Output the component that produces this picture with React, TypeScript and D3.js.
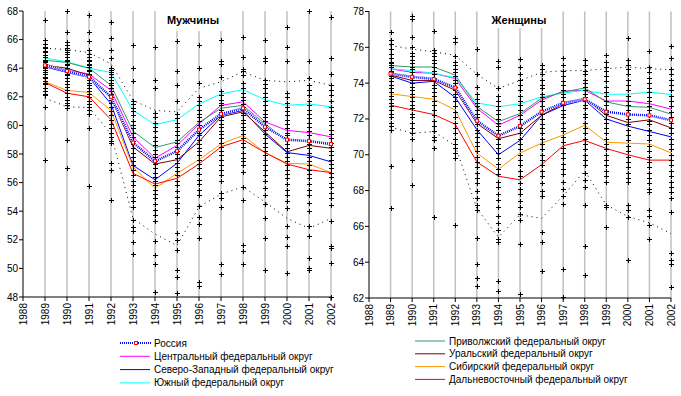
import React from 'react';
import * as d3 from 'd3';

// years on the x axis
const years = [1989, 1990, 1991, 1992, 1993, 1994, 1995, 1996, 1997, 1998, 1999, 2000, 2001, 2002];
const tickYears = [1988, 1989, 1990, 1991, 1992, 1993, 1994, 1995, 1996, 1997, 1998, 1999, 2000, 2001, 2002];

const seriesNames = [
  'Россия',
  'Центральный федеральный округ',
  'Северо-Западный федеральный округ',
  'Южный федеральный округ',
  'Приволжский федеральный округ',
  'Уральский федеральный округ',
  'Сибирский федеральный округ',
  'Дальневосточный федеральный округ',
];
const seriesColors = ['#0000ff', '#ff00ff', '#0000ff', '#00ffff', '#339966', '#800000', '#ff9900', '#ff0000'];

// ---- men
const menRussia = [64.2, 63.8, 63.4, 62.0, 58.8, 57.5, 58.2, 59.7, 60.8, 61.2, 59.9, 59.0, 58.9, 58.7];
const menCentral = [64.3, 63.85, 63.6, 62.45, 59.2, 57.7, 58.6, 60.1, 61.4, 61.65, 60.25, 59.65, 59.5, 59.2];
const menNorthWest = [64.1, 63.7, 63.35, 61.5, 57.2, 56.2, 57.35, 59.3, 60.7, 61.05, 59.4, 58.1, 57.9, 57.45];
const menSouth = [64.7, 64.45, 64.0, 63.7, 61.05, 60.05, 60.4, 61.5, 62.2, 62.5, 61.8, 61.4, 61.5, 61.3];
const menVolga = [64.55, 64.4, 64.0, 62.8, 59.6, 58.45, 58.85, 60.2, 61.2, 61.4, 60.1, 58.95, 58.95, 58.6];
const menUral = [64.2, 64.0, 63.5, 61.9, 58.5, 57.3, 57.6, 58.85, 60.6, 60.95, 59.55, 58.15, 58.6, 58.4];
const menSiberia = [63.05, 62.45, 62.3, 61.05, 57.1, 55.6, 56.65, 57.6, 58.7, 59.3, 58.1, 57.35, 57.3, 56.7];
const menFarEast = [63.0, 62.25, 62.0, 60.4, 56.65, 55.9, 56.3, 57.3, 58.5, 59.0, 58.1, 57.3, 56.9, 56.7];
const menUpper = [65.4, 65.3, 65.1, 64.3, 61.75, 61.05, 60.95, 62.6, 63.05, 63.75, 63.15, 63.05, 63.15, 62.8];
const menLower = [61.9, 61.3, 61.25, 59.4, 53.5, 52.4, 51.6, 54.3, 55.2, 55.7, 54.65, 53.5, 52.8, 53.5];

// regional values (crosses), one list per year
const menRegions = [
  [67.4, 66.0, 65.7, 65.5, 65.4, 65.2, 65.1, 64.9, 64.8, 64.8, 64.6, 64.5, 64.4, 64.3, 64.1, 64.0, 63.9, 63.7, 63.6, 63.4, 63.3, 63.1, 63.0, 62.9, 62.6, 62.4, 62.2, 62.1, 61.3, 59.8, 57.6],
  [68.0, 66.55, 65.8, 65.6, 65.4, 65.3, 65.1, 65.0, 64.8, 64.6, 64.5, 64.3, 64.2, 64.0, 63.9, 63.8, 63.6, 63.5, 63.3, 63.1, 62.9, 62.7, 62.5, 62.3, 62.0, 61.8, 61.6, 61.4, 61.2, 59.0, 57.05],
  [67.7, 66.55, 65.9, 65.3, 65.0, 64.8, 64.6, 64.5, 64.3, 64.2, 64.1, 63.9, 63.8, 63.6, 63.5, 63.4, 63.2, 63.0, 62.8, 62.6, 62.4, 62.2, 62.0, 61.7, 61.5, 61.3, 61.1, 60.8, 59.8, 55.75],
  [67.25, 66.1, 65.3, 64.7, 64.0, 63.9, 63.7, 63.6, 63.4, 63.2, 63.0, 62.8, 62.6, 62.4, 62.2, 62.0, 61.8, 61.6, 61.3, 61.0, 60.7, 60.4, 60.1, 59.8, 59.5, 59.2, 58.9, 58.8, 57.35, 56.9, 54.8],
  [65.6, 64.0, 63.1, 61.7, 61.5, 61.2, 61.0, 60.7, 60.3, 60.0, 59.8, 59.5, 59.2, 58.9, 58.7, 58.4, 58.1, 57.8, 57.5, 57.2, 56.9, 56.5, 56.1, 55.8, 55.4, 55.0, 54.7, 54.3, 53.4, 52.9, 52.6, 51.85, 51.0],
  [65.5, 63.2, 62.6, 60.9, 60.6, 60.2, 59.9, 59.6, 59.2, 58.9, 58.6, 58.3, 58.0, 57.8, 57.5, 57.3, 57.0, 56.7, 56.4, 56.1, 55.8, 55.5, 55.2, 54.9, 54.5, 54.1, 53.7, 53.3, 51.9, 50.95, 50.3, 48.35],
  [65.9, 63.8, 62.8, 61.7, 60.8, 60.5, 60.2, 59.9, 59.6, 59.3, 59.0, 58.8, 58.5, 58.2, 58.0, 57.7, 57.4, 57.1, 56.8, 56.5, 56.1, 55.8, 55.4, 55.0, 54.6, 54.2, 53.9, 52.5, 52.0, 51.3, 49.9, 49.4, 48.25],
  [65.6, 64.0, 63.0, 62.0, 61.7, 61.4, 61.1, 60.8, 60.6, 60.3, 60.0, 59.8, 59.5, 59.3, 59.0, 58.7, 58.4, 58.2, 57.9, 57.6, 57.3, 57.0, 56.6, 56.2, 55.9, 55.5, 55.1, 54.35, 53.6, 53.1, 52.1, 49.05, 48.8],
  [66.0, 64.5, 64.3, 63.4, 62.4, 62.1, 61.8, 61.6, 61.4, 61.1, 60.9, 60.6, 60.4, 60.1, 59.9, 59.6, 59.4, 59.1, 58.8, 58.5, 58.2, 57.9, 57.6, 57.2, 56.9, 56.5, 56.1, 55.3, 54.9, 54.3, 50.3, 49.6],
  [66.15, 64.8, 63.95, 63.8, 63.5, 63.0, 62.6, 62.3, 62.0, 61.8, 61.5, 61.3, 61.1, 60.9, 60.7, 60.4, 60.2, 59.9, 59.7, 59.4, 59.1, 58.8, 58.5, 58.1, 57.7, 57.5, 57.2, 56.75, 55.7, 54.8, 51.65, 51.2, 50.3],
  [66.0, 64.7, 64.5, 63.2, 62.9, 62.6, 62.3, 62.0, 61.7, 61.4, 61.1, 60.8, 60.6, 60.3, 60.0, 59.7, 59.4, 59.1, 58.8, 58.5, 58.2, 57.9, 57.6, 57.2, 56.9, 56.5, 56.1, 55.6, 55.1, 54.5, 53.5, 52.1, 49.9],
  [66.85, 65.5, 64.5, 62.3, 62.0, 61.6, 61.3, 61.0, 60.7, 60.4, 60.1, 59.8, 59.5, 59.3, 59.0, 58.7, 58.4, 58.1, 57.8, 57.5, 57.2, 56.9, 56.6, 56.3, 55.9, 55.5, 55.1, 54.7, 54.2, 53.0, 52.2, 51.6, 49.7],
  [68.0, 64.5, 63.3, 62.8, 62.5, 62.1, 61.7, 61.4, 61.1, 60.8, 60.5, 60.2, 59.9, 59.6, 59.3, 59.0, 58.7, 58.4, 58.1, 57.8, 57.5, 57.2, 56.9, 56.6, 56.3, 55.9, 55.5, 55.1, 54.6, 54.0, 53.0, 52.3, 50.7, 50.0, 49.9],
  [67.6, 64.7, 63.6, 62.8, 62.5, 62.1, 61.7, 61.3, 61.0, 60.6, 60.3, 60.0, 59.7, 59.4, 59.1, 58.8, 58.5, 58.2, 57.9, 57.6, 57.3, 57.0, 56.7, 56.4, 56.0, 55.7, 55.3, 54.9, 54.4, 53.3, 51.6, 51.4, 50.4, 48.0],
];

// ---- women
const womenRussia = [74.53, 74.35, 74.23, 73.75, 71.9, 71.06, 71.6, 72.4, 72.9, 73.1, 72.4, 72.25, 72.2, 71.93];
const womenCentral = [74.8, 74.6, 74.55, 74.25, 72.6, 71.65, 72.2, 73.05, 73.55, 73.6, 73.0, 73.0, 72.85, 72.55];
const womenNorthWest = [74.4, 74.0, 74.1, 73.2, 71.4, 70.0, 70.8, 72.2, 72.75, 73.05, 72.0, 71.6, 71.3, 71.0];
const womenSouth = [74.8, 74.7, 74.55, 74.3, 72.9, 72.68, 72.85, 73.23, 73.45, 73.6, 73.38, 73.38, 73.5, 73.36];
const womenVolga = [74.98, 74.9, 74.9, 74.45, 72.7, 71.85, 72.3, 73.15, 73.5, 73.73, 72.95, 72.7, 72.65, 72.27];
const womenUral = [74.45, 74.15, 74.15, 73.6, 71.75, 70.9, 71.2, 72.2, 72.85, 73.15, 72.2, 71.8, 71.95, 71.5];
const womenSiberia = [73.4, 73.25, 73.1, 72.5, 70.1, 69.2, 70.1, 70.65, 71.1, 71.65, 70.7, 70.65, 70.6, 70.1];
const womenFarEast = [72.77, 72.5, 72.25, 71.7, 69.6, 68.8, 68.6, 69.45, 70.5, 70.8, 70.35, 70.0, 69.7, 69.7];
const womenUpper = [76.1, 75.9, 75.75, 75.55, 74.5, 73.7, 74.15, 74.6, 74.7, 74.7, 74.8, 74.9, 74.8, 74.75];
const womenLower = [71.55, 71.2, 71.3, 70.5, 67.0, 65.4, 66.65, 66.45, 67.7, 69.1, 67.2, 66.55, 66.2, 65.6];

const womenRegions = [
  [76.85, 76.4, 76.2, 75.9, 75.6, 75.4, 75.2, 75.1, 75.0, 74.9, 74.7, 74.6, 74.4, 74.3, 74.1, 73.9, 73.7, 73.5, 73.3, 73.1, 72.9, 72.7, 72.5, 72.3, 72.1, 71.8, 71.6, 71.4, 69.35, 67.0],
  [77.75, 77.6, 76.55, 76.0, 75.7, 75.5, 75.3, 75.1, 74.9, 74.8, 74.6, 74.4, 74.2, 74.0, 73.8, 73.6, 73.4, 73.2, 73.0, 72.8, 72.6, 72.3, 72.1, 71.8, 71.5, 71.2, 70.9, 69.7, 68.3],
  [76.9, 75.85, 75.7, 75.5, 75.3, 75.1, 74.9, 74.7, 74.5, 74.3, 74.1, 73.9, 73.7, 73.5, 73.3, 73.0, 72.8, 72.5, 72.2, 71.9, 71.6, 71.3, 71.0, 70.8, 70.4, 66.5],
  [76.5, 76.3, 75.5, 75.2, 75.0, 74.8, 74.6, 74.4, 74.2, 74.0, 73.8, 73.6, 73.4, 73.2, 73.0, 72.7, 72.4, 72.1, 71.8, 71.5, 71.2, 70.9, 70.6, 70.4, 70.1, 69.8, 66.1],
  [75.9, 74.5, 73.8, 73.4, 73.1, 72.9, 72.7, 72.5, 72.3, 72.1, 71.9, 71.7, 71.4, 71.2, 71.0, 70.7, 70.5, 70.2, 69.9, 69.6, 69.3, 69.0, 68.7, 68.4, 68.0, 67.6, 67.2, 66.9, 65.35, 63.9, 63.1, 62.65],
  [75.25, 74.9, 73.7, 73.3, 73.0, 72.7, 72.5, 72.3, 72.0, 71.8, 71.6, 71.4, 71.1, 70.9, 70.6, 70.4, 70.1, 69.8, 69.5, 69.2, 68.9, 68.5, 68.2, 67.8, 67.5, 67.1, 66.6, 66.2, 65.8, 65.3, 65.1, 62.95, 62.4],
  [75.35, 74.9, 74.5, 74.2, 73.9, 73.6, 73.3, 73.0, 72.8, 72.5, 72.2, 72.0, 71.7, 71.5, 71.2, 70.9, 70.6, 70.3, 70.0, 69.7, 69.4, 69.1, 68.8, 68.4, 68.1, 67.8, 67.4, 67.1, 66.7, 66.35, 65.0, 62.25],
  [75.0, 74.8, 74.5, 74.2, 73.9, 73.7, 73.4, 73.2, 73.0, 72.7, 72.5, 72.3, 72.0, 71.7, 71.5, 71.2, 70.9, 70.6, 70.3, 70.0, 69.7, 69.4, 69.1, 68.8, 68.4, 68.0, 67.7, 65.7, 65.1, 63.5],
  [75.4, 75.0, 74.7, 74.4, 74.1, 73.9, 73.6, 73.4, 73.2, 73.0, 72.8, 72.5, 72.3, 72.1, 71.8, 71.5, 71.3, 71.0, 70.7, 70.4, 70.1, 69.8, 69.5, 69.2, 68.9, 68.5, 68.1, 67.7, 67.25, 63.6, 62.05],
  [75.3, 75.0, 74.7, 74.5, 74.2, 74.0, 73.8, 73.6, 73.4, 73.2, 73.0, 72.8, 72.6, 72.3, 72.1, 71.8, 71.5, 71.2, 70.9, 70.6, 70.3, 70.0, 69.7, 69.4, 69.0, 68.6, 68.2, 67.2, 64.9, 63.3],
  [75.55, 75.2, 74.9, 74.7, 74.4, 74.1, 73.8, 73.5, 73.3, 73.0, 72.8, 72.5, 72.3, 72.0, 71.8, 71.5, 71.2, 70.9, 70.6, 70.3, 70.0, 69.7, 69.4, 69.1, 68.8, 68.5, 67.2, 67.1, 65.95],
  [76.5, 75.3, 75.0, 74.8, 74.5, 74.2, 73.9, 73.6, 73.3, 73.0, 72.8, 72.5, 72.2, 72.0, 71.7, 71.4, 71.1, 70.8, 70.5, 70.2, 69.9, 69.6, 69.3, 69.0, 68.7, 68.5, 67.2, 66.9, 66.5, 64.1],
  [75.8, 74.9, 74.6, 74.3, 74.0, 73.7, 73.5, 73.2, 73.0, 72.7, 72.5, 72.2, 71.9, 71.7, 71.4, 71.1, 70.8, 70.5, 70.2, 69.9, 69.6, 69.3, 69.0, 68.7, 68.4, 68.1, 67.9, 66.9, 66.6, 66.1, 65.3],
  [76.1, 75.4, 74.8, 74.5, 74.2, 73.9, 73.6, 73.3, 73.0, 72.7, 72.4, 72.1, 71.8, 71.5, 71.2, 70.9, 70.6, 70.3, 70.0, 69.7, 69.4, 69.1, 68.8, 68.5, 68.2, 67.9, 67.6, 66.8, 64.5, 64.1, 63.9, 62.6],
];

const menTicks = [48, 50, 52, 54, 56, 58, 60, 62, 64, 66, 68];
const womenTicks = [62, 64, 66, 68, 70, 72, 74, 76, 78];

const FONT = 'Arial, "Liberation Sans", sans-serif';

type PanelProps = {
  title: string;
  x0: number;
  x1: number;
  yTop: number;
  yBottom: number;
  domain: [number, number];
  ticks: number[];
  regions: number[][];
  upper: number[];
  lower: number[];
  lines: number[][]; // regional lines, Central..FarEast
  russia: number[];
  titleBox: [number, number, number];
};

function Panel(p: PanelProps) {
  const x = d3.scaleLinear().domain([1988, 2002]).range([p.x0, p.x1]);
  const y = d3.scaleLinear().domain(p.domain).range([p.yBottom, p.yTop]);
  const line = d3.line<number>().x((d, i) => x(years[i])).y(d => y(d));

  const crosses: string[] = [];
  p.regions.forEach((vals, i) => {
    const cx = Math.round(x(years[i])) + 0.5;
    vals.forEach(v => {
      const cy = Math.round(y(v)) + 0.5;
      crosses.push(`M${cx - 2.5},${cy}H${cx + 2.5}M${cx},${cy - 2.5}V${cy + 2.5}`);
    });
  });

  return (
    <g>
      {/* vertical grid */}
      {years.map(yr => (
        <line key={yr} x1={x(yr)} x2={x(yr)} y1={p.yTop} y2={p.yBottom} stroke="#c0c0c0" strokeWidth={1.5} />
      ))}
      {/* title box hides grid */}
      <rect x={p.titleBox[0]} y={0} width={p.titleBox[1] - p.titleBox[0]} height={p.titleBox[2]} fill="#fff" />
      <text x={(p.titleBox[0] + p.titleBox[1]) / 2} y={24} textAnchor="middle" fontFamily={FONT} fontWeight="bold" fontSize={11}>{p.title}</text>

      {/* regional lines */}
      {p.lines.map((vals, k) => (
        <path key={k} d={line(vals) || ''} fill="none" stroke={seriesColors[k + 1]} strokeWidth={1} />
      ))}

      {/* regions as crosses */}
      <path d={crosses.join('')} stroke="#000" strokeWidth={1} fill="none" shapeRendering="crispEdges" />

      {/* envelope */}
      <path d={line(p.upper) || ''} fill="none" stroke="#000" strokeWidth={1} strokeDasharray="1,4" />
      <path d={line(p.lower) || ''} fill="none" stroke="#000" strokeWidth={1} strokeDasharray="1,4" />

      {/* Russia: checkered blue line with red squares */}
      <path d={line(p.russia) || ''} fill="none" stroke="#fff" strokeWidth={2.5} />
      <path d={line(p.russia) || ''} fill="none" stroke="#0000ff" strokeWidth={2.5} strokeDasharray="1,1" />
      {p.russia.map((v, i) => (
        <rect key={i} x={x(years[i]) - 1.5} y={y(v) - 1.5} width={3} height={3} fill="#fff" stroke="#ff0000" strokeWidth={1} />
      ))}

      {/* axes */}
      <line x1={p.x0} x2={p.x1} y1={p.yBottom} y2={p.yBottom} stroke="#000" />
      <line x1={p.x0} x2={p.x0} y1={p.yTop} y2={p.yBottom} stroke="#000" />
      {p.ticks.map(t => (
        <g key={t}>
          <line x1={p.x0 - 4} x2={p.x0} y1={y(t)} y2={y(t)} stroke="#000" />
          <text x={p.x0 - 5} y={y(t)} dy="0.35em" textAnchor="end" fontFamily={FONT} fontSize={10}>{t}</text>
        </g>
      ))}
      {tickYears.map(yr => (
        <g key={yr}>
          <line x1={x(yr)} x2={x(yr)} y1={p.yBottom} y2={p.yBottom + 4} stroke="#000" />
          <text transform={`translate(${x(yr) + 3.5},${p.yBottom + 6}) rotate(-90)`} textAnchor="end" fontFamily={FONT} fontSize={10}>{yr}</text>
        </g>
      ))}
    </g>
  );
}

function Legend({ x0, y0, step, items }: { x0: number; y0: number; step: number; items: number[] }) {
  return (
    <g>
      {items.map((k, i) => {
        const yy = y0 + i * step;
        return (
          <g key={k}>
            {k === 0 ? (
              <g>
                <line x1={x0} x2={x0 + 32} y1={yy} y2={yy} stroke="#0000ff" strokeWidth={2} strokeDasharray="1,1" />
                <rect x={x0 + 14.5} y={yy - 1.5} width={3} height={3} fill="#fff" stroke="#ff0000" />
              </g>
            ) : (
              <line x1={x0} x2={x0 + 30} y1={yy} y2={yy} stroke={seriesColors[k]} strokeWidth={1} />
            )}
            <text x={x0 + 34} y={yy} dy="0.35em" fontFamily={FONT} fontSize={10}>{seriesNames[k]}</text>
          </g>
        );
      })}
    </g>
  );
}

export default function App() {
  return (
    <div style={{ position: 'absolute', left: 0, top: 0 }}>
      <svg width={681} height={396} style={{ display: 'block', background: '#fff' }}>
        <Panel
          title="Мужчины"
          x0={23} x1={331} yTop={11} yBottom={297}
          domain={[48, 68]} ticks={menTicks}
          regions={menRegions} upper={menUpper} lower={menLower}
          lines={[menCentral, menNorthWest, menSouth, menVolga, menUral, menSiberia, menFarEast]}
          russia={menRussia}
          titleBox={[161, 225, 31]}
        />
        <Panel
          title="Женщины"
          x0={369} x1={671} yTop={11.5} yBottom={298}
          domain={[62, 78]} ticks={womenTicks}
          regions={womenRegions} upper={womenUpper} lower={womenLower}
          lines={[womenCentral, womenNorthWest, womenSouth, womenVolga, womenUral, womenSiberia, womenFarEast]}
          russia={womenRussia}
          titleBox={[488, 550, 28]}
        />
        <Legend x0={120} y0={343} step={13.3} items={[0, 1, 2, 3]} />
        <Legend x0={415} y0={341} step={12.8} items={[4, 5, 6, 7]} />
      </svg>
    </div>
  );
}
